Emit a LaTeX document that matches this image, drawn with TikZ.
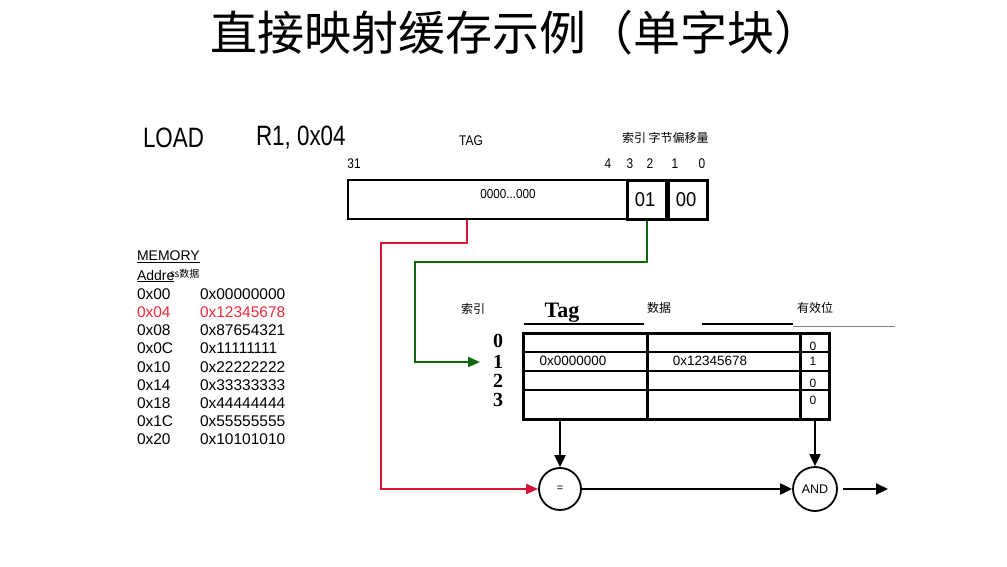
\documentclass[tikz,border=0pt]{standalone}
\usepackage{fontspec}
\setmainfont{Liberation Sans}
\newfontfamily\cjk{Noto Sans CJK SC}
\newfontfamily\tms{Liberation Serif}
\usetikzlibrary{arrows.meta}
\definecolor{rline}{RGB}{215,20,55}
\definecolor{gline}{RGB}{10,105,10}
\definecolor{rtext}{RGB}{240,40,55}
\tikzset{
  txt/.style={inner sep=0pt, outer sep=0pt},
  bitbox/.style={draw, line width=3pt, inner sep=0pt, minimum width=39pt, minimum height=39pt, anchor=north west},
  gate/.style={draw, circle, line width=1.8pt, inner sep=0pt, minimum size=42pt},
  arr/.style={line width=2pt, -{Triangle[length=12pt,width=11pt]}},
  redc/.style={rline, line width=2pt, -{Triangle[length=12pt,width=10pt]}},
  grnc/.style={gline, line width=2pt, -{Triangle[length=12pt,width=10pt]}},
  idx/.style={txt, font=\tms\bfseries\fontsize{20}{20}\selectfont},
  mem/.style={txt, anchor=west, font=\fontsize{15.5}{15.5}\selectfont},
  cell/.style={txt, font=\fontsize{13.5}{13.5}\selectfont},
  vbit/.style={txt, font=\fontsize{12}{12}\selectfont},
  bitn/.style={txt, font=\fontsize{14}{14}\selectfont},
  hdr/.style={txt, font=\cjk\fontsize{12}{12}\selectfont},
}
\begin{document}
\begin{tikzpicture}[x=1pt,y=-1pt]
\useasboundingbox[fill=white] (0,0) rectangle (1007,567);
% title
\node[txt, font=\cjk\fontsize{47}{47}\selectfont] (title) at (516,33) {直接映射缓存示例（单字块）};
% instruction
\node[txt, anchor=west, font=\fontsize{28}{28}\selectfont] (load) at (143,138) {\scalebox{0.8}[1]{LOAD}};
\node[txt, anchor=west, font=\fontsize{28}{28}\selectfont] (reg) at (256,138) {\scalebox{0.8}[1]{R1, 0x04}};
% address fields
\node[txt, font=\fontsize{14}{14}\selectfont] (taglbl) at (471,141) {\scalebox{0.85}[1]{TAG}};
\node[hdr, anchor=west] (fldlbl) at (622,138) {索引 字节偏移量};
\node[bitn] (b31) at (354,164) {\scalebox{0.85}[1]{31}};
\node[bitn] (b4) at (608,164) {\scalebox{0.85}[1]{4}};
\node[bitn] (b3) at (630,164) {\scalebox{0.85}[1]{3}};
\node[bitn] (b2) at (650,164) {\scalebox{0.85}[1]{2}};
\node[bitn] (b1) at (675,164) {\scalebox{0.85}[1]{1}};
\node[bitn] (b0) at (702,164) {\scalebox{0.85}[1]{0}};
\node[draw, line width=2pt, inner sep=0pt, minimum width=279pt, minimum height=39pt, anchor=north west] (tagbox) at (347,179) {};
\node[txt, font=\fontsize{13}{13}\selectfont] (tagval) at (508,194) {\scalebox{0.9}[1]{0000...000}};
\node[bitbox] (idxbox) at (626,179) {};
\node[txt, font=\fontsize{20}{20}\selectfont] (idxval) at (645,200) {\scalebox{0.92}[1]{01}};
\node[bitbox] (offbox) at (667,179) {};
\node[txt, font=\fontsize{20}{20}\selectfont] (offval) at (686,200) {\scalebox{0.92}[1]{00}};
% memory
\node[txt, anchor=west, font=\fontsize{14}{14}\selectfont] (memt) at (137,257) {\underline{MEMORY}};
\node[txt, anchor=west, font=\fontsize{14}{14}\selectfont] (addrt) at (137,276) {\underline{Addre}};
\node[txt, anchor=west, font=\cjk\fontsize{10}{10}\selectfont] (datat) at (170,274) {ss数据};
\node[mem] (a0) at (137,294) {0x00};   \node[mem] (d0) at (200,294) {0x00000000};
\node[mem, rtext] (a1) at (137,312) {0x04}; \node[mem, rtext] (d1) at (200,312) {0x12345678};
\node[mem] (a2) at (137,330) {0x08};   \node[mem] (d2) at (200,330) {0x87654321};
\node[mem] (a3) at (137,348) {0x0C};   \node[mem] (d3) at (200,348) {0x11111111};
\node[mem] (a4) at (137,367) {0x10};   \node[mem] (d4) at (200,367) {0x22222222};
\node[mem] (a5) at (137,385) {0x14};   \node[mem] (d5) at (200,385) {0x33333333};
\node[mem] (a6) at (137,403) {0x18};   \node[mem] (d6) at (200,403) {0x44444444};
\node[mem] (a7) at (137,421) {0x1C};   \node[mem] (d7) at (200,421) {0x55555555};
\node[mem] (a8) at (137,439) {0x20};   \node[mem] (d8) at (200,439) {0x10101010};
% cache header
\node[hdr] (h1) at (473,309) {索引};
\node[txt, font=\tms\bfseries\fontsize{22}{22}\selectfont] (h2) at (562,313) {Tag};
\node[hdr] (h3) at (659,308) {数据};
\node[hdr] (h4) at (815,308) {有效位};
\draw[line width=2pt] (524,324) -- (644,324);
\draw[line width=2pt] (702,324) -- (793,324);
\draw[line width=0.8pt, gray] (793,326) -- (895,326);
% cache table
\node[draw, line width=3pt, inner sep=0pt, minimum width=306pt, minimum height=86pt, anchor=north west] (tbl) at (522,332) {};
\draw[line width=2.5pt] (522,352) -- (828,352);
\draw[line width=2.5pt] (522,371) -- (828,371);
\draw[line width=2.5pt] (522,390) -- (828,390);
\draw[line width=3pt] (647,332) -- (647,418);
\draw[line width=3pt] (800,332) -- (800,418);
\node[idx] (i0) at (498,341) {0};
\node[idx] (i1) at (498,362) {1};
\node[idx] (i2) at (498,381) {2};
\node[idx] (i3) at (498,400) {3};
\node[cell] (c1t) at (573,361) {0x0000000};
\node[cell] (c1d) at (710,361) {0x12345678};
\node[vbit] (v0) at (813,346) {0};
\node[vbit] (v1) at (813,361) {1};
\node[vbit] (v2) at (813,383) {0};
\node[vbit] (v3) at (813,400) {0};
% gates
\node[gate] (eq) at (560,489) {\fontsize{11}{11}\selectfont =};
\node[gate, minimum size=44pt] (andc) at (815,489) {\fontsize{12.5}{12.5}\selectfont AND};
\coordinate (out) at (888,489);
% connectors
\draw[redc] ([xshift=-20.5pt]tagbox.south) |- (381,243) |- (eq.west);
\draw[grnc] (idxbox.south) |- (415,262) |- ([xshift=-13pt]i1.west);
\draw[arr] (eq.north |- tbl.south) -- (eq.north);
\draw[arr] (andc.north |- tbl.south) -- (andc.north);
\draw[arr] (eq.east) -- (andc.west);
\draw[arr] ([xshift=5pt]andc.east) -- (out);
\end{tikzpicture}
\end{document}
